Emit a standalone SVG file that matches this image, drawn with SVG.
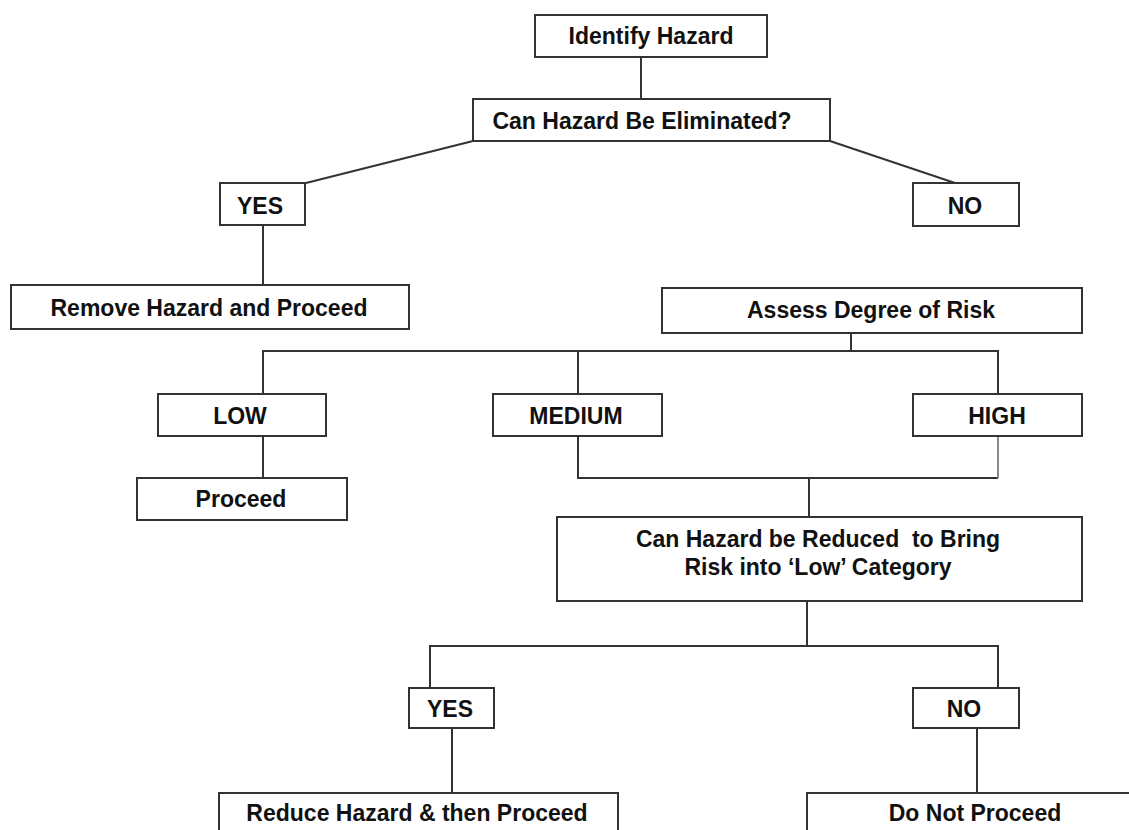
<svg xmlns="http://www.w3.org/2000/svg" width="1129" height="830" viewBox="0 0 1129 830">
<style>
.box{fill:#fff;stroke:#333;stroke-width:2}
.t{font-family:"Liberation Sans",Arial,sans-serif;font-weight:bold;font-size:23px;fill:#111;text-anchor:middle}
.pre{white-space:pre}
.c{fill:none;stroke:#333;stroke-width:2}
.c2{fill:none;stroke:#888;stroke-width:2}
</style>
<rect width="1129" height="830" fill="#fff"/>
<g id="connectors">
<path class="c" d="M641,57 V99"/>
<path class="c" d="M473,141 L306,183"/>
<path class="c" d="M830,141 L955,183"/>
<path class="c" d="M263,225 V285"/>
<path class="c" d="M851,333 V351"/>
<path class="c" d="M263,394 V351 H998 V394"/>
<path class="c" d="M578,351 V394"/>
<path class="c" d="M263,436 V478"/>
<path class="c" d="M578,436 V478 H998"/>
<path class="c2" d="M998,436 V478"/>
<path class="c" d="M809,478 V517"/>
<path class="c" d="M807,601 V646"/>
<path class="c" d="M430,688 V646 H998 V688"/>
<path class="c" d="M452,728 V793"/>
<path class="c" d="M977,728 V793"/>
</g>
<g id="identify"><rect class="box" x="535" y="15" width="232" height="42"/><text class="t" x="651" y="44">Identify Hazard</text></g>
<g id="eliminate"><rect class="box" x="473" y="99" width="357" height="42"/><text class="t" x="642" y="129">Can Hazard Be Eliminated?</text></g>
<g id="yes1"><rect class="box" x="220" y="183" width="85" height="42"/><text class="t" x="260" y="214">YES</text></g>
<g id="no1"><rect class="box" x="913" y="183" width="106" height="43"/><text class="t" x="965" y="214">NO</text></g>
<g id="remove"><rect class="box" x="11" y="285" width="398" height="44"/><text class="t" x="209" y="316">Remove Hazard and Proceed</text></g>
<g id="assess"><rect class="box" x="662" y="288" width="420" height="45"/><text class="t" x="871" y="318">Assess Degree of Risk</text></g>
<g id="low"><rect class="box" x="158" y="394" width="168" height="42"/><text class="t" x="240" y="424">LOW</text></g>
<g id="medium"><rect class="box" x="493" y="394" width="169" height="42"/><text class="t" x="576" y="424">MEDIUM</text></g>
<g id="high"><rect class="box" x="913" y="394" width="169" height="42"/><text class="t" x="997" y="424">HIGH</text></g>
<g id="proceed"><rect class="box" x="137" y="478" width="210" height="42"/><text class="t" x="241" y="507">Proceed</text></g>
<g id="reduce-question"><rect class="box" x="557" y="517" width="525" height="84"/><text class="t pre" x="818" y="547" xml:space="preserve">Can Hazard be Reduced  to Bring</text><text class="t" x="818" y="575">Risk into ‘Low’ Category</text></g>
<g id="yes2"><rect class="box" x="409" y="688" width="85" height="40"/><text class="t" x="450" y="717">YES</text></g>
<g id="no2"><rect class="box" x="913" y="688" width="106" height="40"/><text class="t" x="964" y="717">NO</text></g>
<g id="reduce"><rect class="box" x="219" y="793" width="399" height="50"/><text class="t" x="417" y="821">Reduce Hazard &amp; then Proceed</text></g>
<g id="do-not-proceed"><rect class="box" x="807" y="793" width="340" height="50"/><text class="t" x="975" y="821">Do Not Proceed</text></g>
</svg>
